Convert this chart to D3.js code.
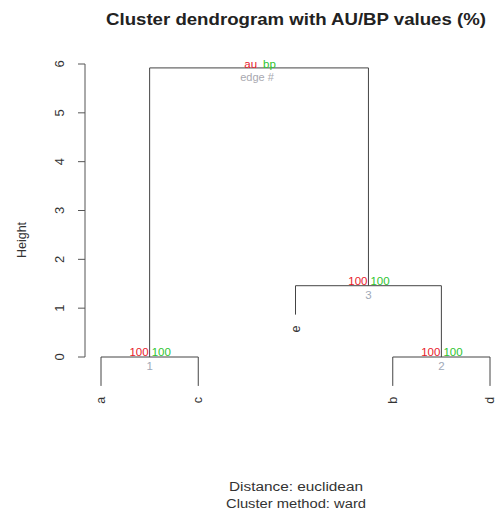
<!DOCTYPE html>
<html>
<head>
<meta charset="utf-8">
<script src="https://cdn.jsdelivr.net/npm/d3@7"></script>
<style>
  body { margin: 0; background: #fff; }
  text { font-family: "Liberation Sans", Arial, sans-serif; }
</style>
</head>
<body>
<svg id="chart" width="496" height="515"></svg>
<script>
// leaves in plotting order
let leaves = ["a", "c", "e", "b", "d"];
// merges: negative = leaf index (1-based, R style), positive = earlier merge
let merges = [[-1, -2], [-4, -5], [-3, 2], [1, 3]];
let heights = [0.0, 0.0, 1.46, 5.92];
let au = [100, 100, 100];
let bp = [100, 100, 100];
let edges = [1, 2, 3];
let yTicks = [0, 1, 2, 3, 4, 5, 6];

let svg = d3.select("#chart");

let x = d3.scalePoint().domain(leaves).range([101, 490]);
let y = d3.scaleLinear().domain([0, 6]).range([357, 64]);
let hang = 0.1 * d3.max(heights);

// compute node x positions
let nodeX = [];
function posOf(id) {
    if (id < 0) return x(leaves[-id - 1]);
    return nodeX[id - 1];
}
function hOf(id, parentH) {
    if (id < 0) return parentH - hang;
    return heights[id - 1];
}
merges.forEach(function(m, i) {
    nodeX[i] = (posOf(m[0]) + posOf(m[1])) / 2;
});

let g = svg.append("g");
let lineColor = "#444";

merges.forEach(function(m, i) {
    let h = heights[i];
    let x1 = posOf(m[0]), x2 = posOf(m[1]);
    let h1 = hOf(m[0], h), h2 = hOf(m[1], h);
    g.append("path")
        .attr("d", "M" + x1 + "," + y(h1) + "V" + y(h) + "H" + x2 + "V" + y(h2))
        .attr("fill", "none")
        .attr("stroke", lineColor)
        .attr("stroke-width", 1);
    m.forEach(function(id) {
        if (id < 0) {
            let lx = x(leaves[-id - 1]);
            g.append("text")
                .attr("transform", "translate(" + (lx + 4) + "," + (y(h - hang) + 11) + ") rotate(-90)")
                .attr("text-anchor", "end")
                .attr("font-size", 12.5)
                .attr("fill", "#333")
                .text(leaves[-id - 1]);
        }
    });
});

// au / bp labels (skip root)
let labelNodes = d3.range(merges.length - 1);
labelNodes.forEach(function(i) {
    let nx = nodeX[i], ny = y(heights[i]);
    g.append("text").attr("x", nx - 1).attr("y", ny - 1)
        .attr("text-anchor", "end").attr("font-size", 11.5)
        .attr("fill", "#e8202a").text(au[i]);
    g.append("text").attr("x", nx + 2).attr("y", ny - 1)
        .attr("text-anchor", "start").attr("font-size", 11.5)
        .attr("fill", "#2ec42e").text(bp[i]);
    g.append("text").attr("x", nx).attr("y", ny + 13)
        .attr("text-anchor", "middle").attr("font-size", 11.5)
        .attr("fill", "#a0a8b8").text(edges[i]);
});

// legend on root
let rx = nodeX[merges.length - 1], ry = y(heights[merges.length - 1]);
g.append("text").attr("x", rx - 2).attr("y", ry).attr("text-anchor", "end")
    .attr("font-size", 11.5).attr("fill", "#e8202a").text("au");
g.append("text").attr("x", rx + 4).attr("y", ry).attr("text-anchor", "start")
    .attr("font-size", 11.5).attr("fill", "#2ec42e").text("bp");
g.append("text").attr("x", rx - 2).attr("y", ry + 13).attr("text-anchor", "middle")
    .attr("font-size", 11).attr("fill", "#a8a8b0").text("edge #");

// y axis
let axis = svg.append("g").attr("transform", "translate(85,0)");
axis.append("line").attr("x1", 0).attr("x2", 0).attr("y1", y(0)).attr("y2", y(6))
    .attr("stroke", "#555");
axis.selectAll(".tick").data(yTicks).enter().append("line")
    .attr("x1", 0).attr("x2", -7).attr("y1", d => y(d)).attr("y2", d => y(d))
    .attr("stroke", "#555");
axis.selectAll(".lab").data(yTicks).enter().append("text")
    .attr("transform", d => "translate(-21," + y(d) + ") rotate(-90)")
    .attr("text-anchor", "middle").attr("font-size", 13).attr("fill", "#333")
    .text(d => d);

svg.append("text").attr("transform", "translate(26,240) rotate(-90)")
    .attr("text-anchor", "middle").attr("font-size", 12.5).attr("fill", "#333")
    .text("Height");

svg.append("text").attr("x", 296).attr("y", 25).attr("text-anchor", "middle")
    .attr("font-size", 16.5).attr("font-weight", "bold").attr("fill", "#222")
    .attr("textLength", 380).attr("lengthAdjust", "spacingAndGlyphs")
    .text("Cluster dendrogram with AU/BP values (%)");

svg.append("text").attr("x", 296).attr("y", 491).attr("text-anchor", "middle")
    .attr("font-size", 12.5).attr("fill", "#333")
    .attr("textLength", 134).attr("lengthAdjust", "spacingAndGlyphs")
    .text("Distance:  euclidean");
svg.append("text").attr("x", 296).attr("y", 508).attr("text-anchor", "middle")
    .attr("font-size", 12.5).attr("fill", "#333")
    .attr("textLength", 140).attr("lengthAdjust", "spacingAndGlyphs")
    .text("Cluster method: ward");
</script>
</body>
</html>
